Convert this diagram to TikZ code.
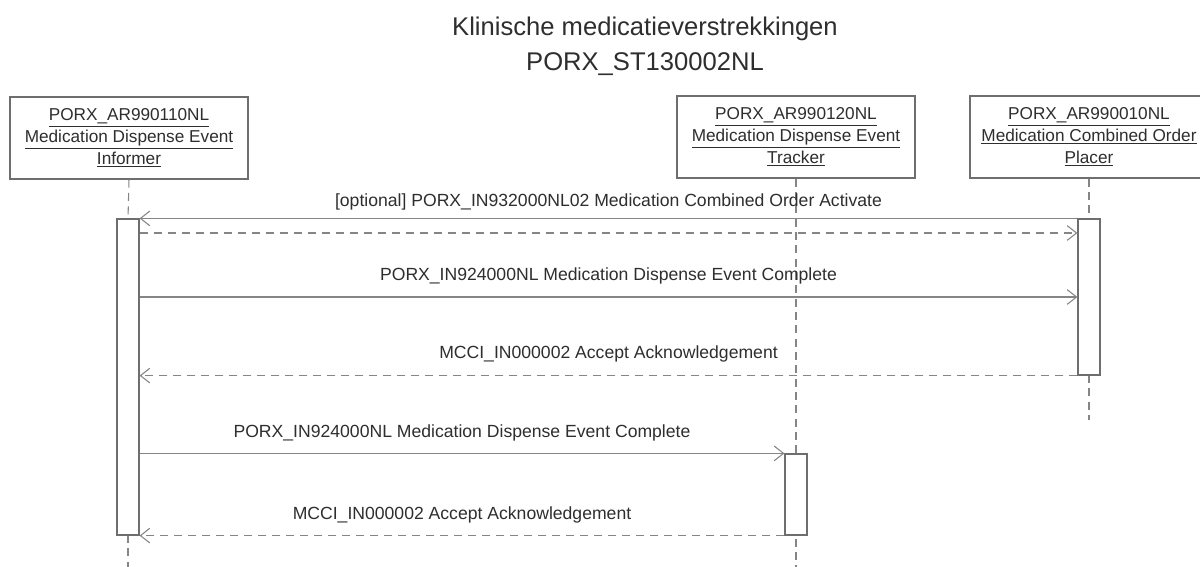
\documentclass[tikz,border=0pt]{standalone}
\usepackage{fontspec}
\setmainfont{Liberation Sans}
\usetikzlibrary{arrows.meta}
\definecolor{linegray}{HTML}{858585}
\definecolor{boxgray}{HTML}{6E6E6E}
\definecolor{txt}{HTML}{2E2E2E}
\begin{document}
\begin{tikzpicture}[x=0.75pt,y=-0.75pt,
  actor/.style={draw=boxgray, line width=0.9pt, fill=white, minimum width=178.5pt,
    minimum height=61.5pt, inner sep=0pt, align=center, text=txt,
    font=\fontsize{12.9}{16.5}\selectfont},
  actbar/.style={draw=boxgray, line width=0.9pt, fill=white, minimum width=16.5pt, inner sep=0pt},
  life/.style={draw=linegray, line width=0.8pt, dash pattern=on 6pt off 4pt},
  msg/.style={draw=linegray, line width=0.9pt, -{Straight Barb[length=7pt,width=11pt,line width=0.8pt]}},
  reply/.style={msg, dash pattern=on 6pt off 4.5pt},
  lbl/.style={font=\fontsize{13.2}{15}\selectfont, text=txt},
  ttl/.style={font=\fontsize{19.2}{26}\selectfont, text=txt, align=center}]
\clip (0,0) rectangle (1200,567);
\fill[white] (0,0) rectangle (1200,567);

\node[ttl] (title) at (645,46) {Klinische medicatieverstrekkingen\\PORX\_ST130002NL};

\node[actor] (informer) at (129,138) {\underline{PORX\_AR990110NL}\\\underline{Medication Dispense Event}\\\underline{Informer}};
\node[actor] (tracker) at (796,137) {\underline{PORX\_AR990120NL}\\\underline{Medication Dispense Event}\\\underline{Tracker}};
\node[actor] (placer) at (1089,137) {\underline{PORX\_AR990010NL}\\\underline{Medication Combined Order}\\\underline{Placer}};

\coordinate (endL) at (128,567);
\coordinate (endM) at (796,567);
\coordinate (endR) at (1089,420);

% lifelines
\draw[life] (informer.south) -- (128,219);
\draw[life] (128,535) -- (endL);
\draw[life] (tracker.south) -- (endM);
\draw[life] (placer.south) -- (1089,219);
\draw[life] (1089,375) -- (endR);

% activation bars
\node[actbar, minimum height=237pt] (barL) at (128,377) {};
\node[actbar, minimum height=117pt] (barR) at (1089,297) {};
\node[actbar, minimum height=60.75pt] (barM) at (796,494.5) {};

\coordinate (y2) at (0,233);
\coordinate (y3) at (0,297);

% messages
\draw[msg] (barR.north west) -- (barL.north east)
  node[lbl, midway, yshift=12pt] {[optional] PORX\_IN932000NL02 Medication Combined Order Activate};
\draw[reply] (barL.east |- y2) -- (barR.west |- y2);
\draw[msg] (barL.east |- y3) -- (barR.west |- y3)
  node[lbl, midway, yshift=15.5pt] {PORX\_IN924000NL Medication Dispense Event Complete};
\draw[reply] (barR.south west) -- (barL.east |- barR.south west)
  node[lbl, midway, yshift=16pt] {MCCI\_IN000002 Accept Acknowledgement};
\draw[msg] (barL.east |- barM.north west) -- (barM.north west)
  node[lbl, midway, yshift=15pt] {PORX\_IN924000NL Medication Dispense Event Complete};
\draw[reply] (barM.south west) -- (barL.south east)
  node[lbl, midway, yshift=15.5pt] {MCCI\_IN000002 Accept Acknowledgement};
\end{tikzpicture}
\end{document}
